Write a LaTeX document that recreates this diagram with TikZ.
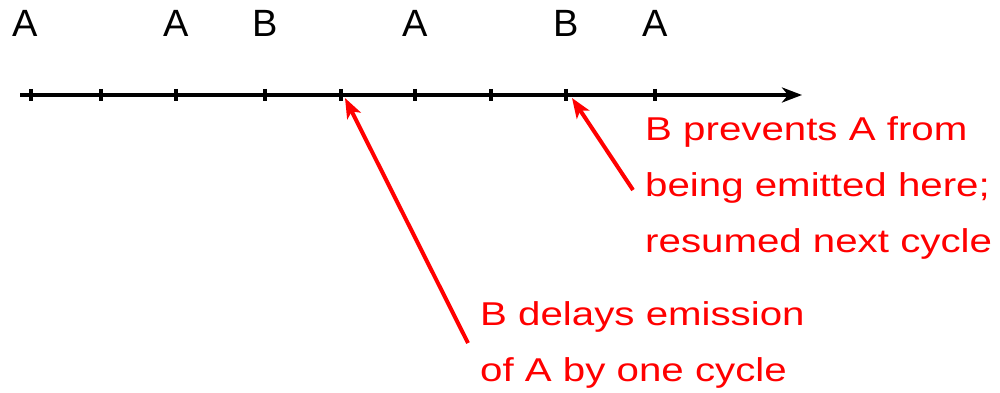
\documentclass[tikz,border=0pt]{standalone}
\usepackage{fontspec}
\setmainfont{Liberation Sans}
\newfontfamily\redfont[FakeStretch=1.22]{Liberation Sans}
\usetikzlibrary{arrows.meta}
\begin{document}
\begin{tikzpicture}[x=1pt,y=-1pt,
  lab/.style={anchor=base,font=\fontsize{38}{40}\selectfont,inner sep=0pt},
  ticmark/.style={line width=3.5pt},
  axisline/.style={line width=3.5pt,-{Stealth[length=20pt,width=15pt,inset=6pt]}},
  note/.style={anchor=base west,align=left,text=red,inner sep=0pt,font=\redfont\fontsize{33}{56}\selectfont},
  ptr/.style={draw=red,line width=4pt,-{Stealth[length=20pt,width=15pt,inset=5pt]}}]
\useasboundingbox (0,0) rectangle (1000,393);
\coordinate (s) at (20,95);
\coordinate (e) at (802,95);
\draw[axisline] (s) -- (e);
\foreach \x [count=\i] in {31,101,176,265,341,415,491,566,655}{
  \coordinate (t\i) at (\x,95);
  \draw[ticmark] (\x,89) -- (\x,101);
}
\node[lab] (l1) at (25,37) {A};
\node[lab] (l2) at (176,37) {A};
\node[lab] (l3) at (265,37) {B};
\node[lab] (l4) at (415,37) {A};
\node[lab] (l5) at (566,37) {B};
\node[lab] (l6) at (655,37) {A};
\node[note] (n1) at (645,252) {B prevents A from\\being emitted here;\\resumed next cycle};
\node[note] (n2) at (480,381) {B delays emission\\of A by one cycle};
\coordinate (a1tail) at (468,343);
\coordinate (a1tip) at (345,98);
\coordinate (a2tail) at (633,190);
\coordinate (a2tip) at (572,98);
\draw[ptr] (a1tail) -- (a1tip);
\draw[ptr] (a2tail) -- (a2tip);
\end{tikzpicture}
\end{document}
